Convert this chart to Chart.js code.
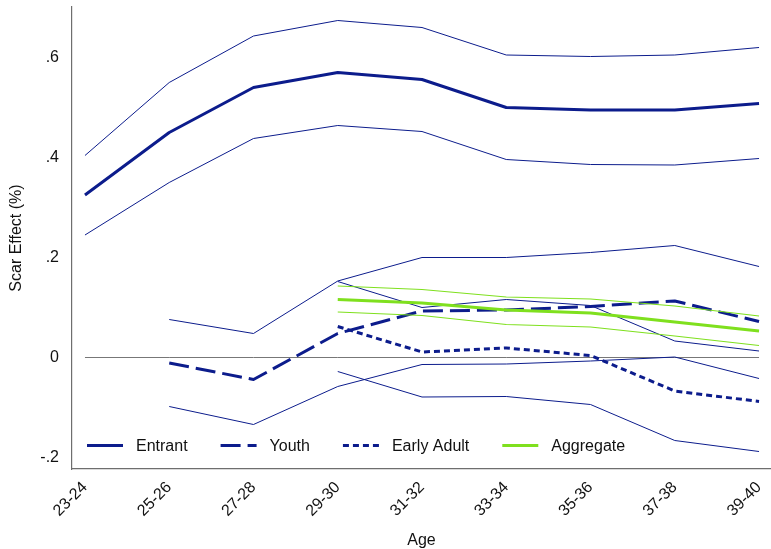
<!DOCTYPE html>
<html>
<head>
<meta charset="utf-8">
<script src="https://cdn.jsdelivr.net/npm/chart.js@4.4.1/dist/chart.umd.min.js"></script>
<style>
  html, body { margin: 0; padding: 0; background: #ffffff; }
  #wrap { width: 771px; height: 549px; }
</style>
</head>
<body>
<div id="wrap"><canvas id="scar" width="771" height="549"></canvas></div>
<script>
// Age groups along the horizontal axis
const ageGroups = ['23-24', '25-26', '27-28', '29-30', '31-32', '33-34', '35-36', '37-38', '39-40'];

// Entrant cohort: estimate with 95% band
const entrant      = [0.325, 0.450, 0.540, 0.570, 0.556, 0.500, 0.495, 0.495, 0.508];
const entrantUpper = [0.404, 0.550, 0.643, 0.674, 0.660, 0.605, 0.602, 0.605, 0.620];
const entrantLower = [0.245, 0.350, 0.438, 0.464, 0.452, 0.396, 0.386, 0.385, 0.398];

// Youth cohort
const youth      = [null, -0.011, -0.044, 0.048, 0.093, 0.095, 0.102, 0.113, 0.072];
const youthUpper = [null,  0.076,  0.048, 0.153, 0.200, 0.200, 0.210, 0.224, 0.182];
const youthLower = [null, -0.098, -0.134, -0.058, -0.014, -0.013, -0.007, 0.001, -0.042];

// Early adult cohort
const earlyAdult      = [null, null, null,  0.062,  0.011,  0.019,  0.004, -0.067, -0.088];
const earlyAdultUpper = [null, null, null,  0.152,  0.100,  0.116,  0.104,  0.033,  0.013];
const earlyAdultLower = [null, null, null, -0.028, -0.079, -0.078, -0.094, -0.166, -0.188];

// Aggregate
const aggregate      = [null, null, null, 0.116, 0.109, 0.095, 0.089, 0.071, 0.053];
const aggregateUpper = [null, null, null, 0.143, 0.136, 0.121, 0.117, 0.103, 0.083];
const aggregateLower = [null, null, null, 0.091, 0.084, 0.066, 0.061, 0.043, 0.024];

// Reference line at zero
const zeroLine = [0, 0, 0, 0, 0, 0, 0, 0, 0];

// Vertical axis ticks
const yTickValues = [-0.2, 0, 0.2, 0.4, 0.6];
const yTickLabels = ['-.2', '0', '.2', '.4', '.6'];

const NAVY = '#0c1c8c';
const LIME = '#7fe01e';
const FONT = '"Liberation Sans", Arial, Helvetica, sans-serif';
const TEXT = '#111111';

function line(label, values, color, width, dash, legend) {
  return {
    label,
    data: values.map((v, i) => ({ x: i, y: v })),
    borderColor: color,
    backgroundColor: color,
    borderWidth: width,
    borderDash: dash || [],
    pointRadius: 0,
    pointHoverRadius: 0,
    fill: false,
    tension: 0,
    spanGaps: false,
    borderJoinStyle: 'round',
    showInLegend: !!legend
  };
}

// listed bottom-to-top
const layers = [
  line('zero', zeroLine, '#777777', 1, []),
  line('Entrant upper', entrantUpper, NAVY, 1, []),
  line('Entrant lower', entrantLower, NAVY, 1, []),
  line('Entrant', entrant, NAVY, 3, [], true),
  line('Youth upper', youthUpper, NAVY, 1, []),
  line('Youth lower', youthLower, NAVY, 1, []),
  line('Youth', youth, NAVY, 3, [20, 7], true),
  line('Early Adult upper', earlyAdultUpper, NAVY, 1, []),
  line('Early Adult lower', earlyAdultLower, NAVY, 1, []),
  line('Early Adult', earlyAdult, NAVY, 3, [6, 4], true),
  line('Aggregate upper', aggregateUpper, LIME, 1.2, []),
  line('Aggregate lower', aggregateLower, LIME, 1.2, []),
  line('Aggregate', aggregate, LIME, 3, [], true)
];
layers.forEach((d, i) => { d.order = layers.length - i; });

// Legend drawn inside the plot, along its bottom edge
const insideLegend = {
  id: 'insideLegend',
  afterDraw(chart) {
    const { ctx, chartArea } = chart;
    const items = chart.data.datasets.filter(d => d.showInLegend);
    const y = chartArea.bottom - 23.5;
    let x = chartArea.left + 15;
    ctx.save();
    ctx.font = '16px ' + FONT;
    ctx.textBaseline = 'middle';
    ctx.textAlign = 'left';
    items.forEach(d => {
      ctx.beginPath();
      ctx.strokeStyle = d.borderColor;
      ctx.lineWidth = d.borderWidth;
      ctx.setLineDash(d.borderDash);
      ctx.moveTo(x, y);
      ctx.lineTo(x + 36, y);
      ctx.stroke();
      ctx.setLineDash([]);
      ctx.fillStyle = TEXT;
      ctx.fillText(d.label, x + 49, y + 1);
      x += 49 + ctx.measureText(d.label).width + 33;
    });
    ctx.restore();
  }
};

new Chart(document.getElementById('scar'), {
  type: 'line',
  data: { datasets: layers },
  plugins: [insideLegend],
  options: {
    responsive: false,
    animation: false,
    devicePixelRatio: 1,
    layout: { padding: { top: 7, right: 0, bottom: 0, left: 0 } },
    plugins: { legend: { display: false }, tooltip: { enabled: false } },
    scales: {
      x: {
        type: 'linear',
        min: -0.154,
        max: 8.142,
        afterBuildTicks: s => { s.ticks = ageGroups.map((_, i) => ({ value: i })); },
        afterFit: s => { s.height = 80; s.paddingLeft = 0; s.paddingRight = 0; },
        grid: { display: false, drawTicks: false },
        border: { display: true, color: '#6e6e6e', width: 1.2 },
        ticks: {
          autoSkip: false,
          minRotation: 45,
          maxRotation: 45,
          padding: 9,
          color: TEXT,
          font: { size: 16, family: FONT },
          callback: v => ageGroups[v]
        },
        title: {
          display: true,
          text: 'Age',
          color: TEXT,
          font: { size: 16, family: FONT, lineHeight: 1.05 },
          padding: { top: 0, bottom: 0 }
        }
      },
      y: {
        min: -0.223,
        max: 0.701,
        afterBuildTicks: s => { s.ticks = yTickValues.map(v => ({ value: v })); },
        afterFit: s => { s.width = 72; s.paddingTop = 0; s.paddingBottom = 0; },
        grid: { display: false, drawTicks: false },
        border: { display: true, color: '#6e6e6e', width: 1.2 },
        ticks: {
          padding: 13,
          color: TEXT,
          font: { size: 16, family: FONT },
          callback: v => yTickLabels[yTickValues.indexOf(v)]
        },
        title: {
          display: true,
          text: 'Scar Effect (%)',
          color: TEXT,
          font: { size: 16, family: FONT },
          padding: { top: 7, bottom: 0 }
        }
      }
    }
  }
});
</script>
</body>
</html>
